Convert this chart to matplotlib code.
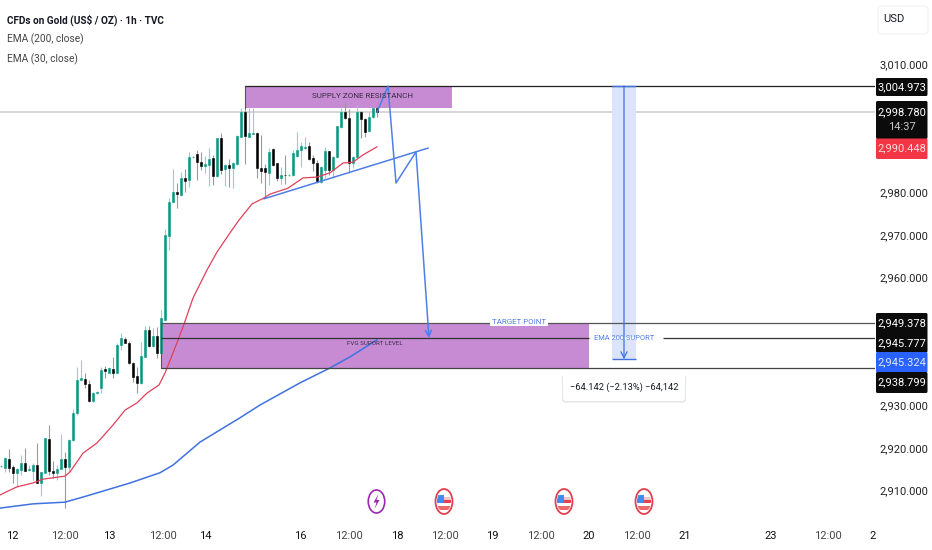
import matplotlib
matplotlib.use("Agg")
import matplotlib.pyplot as plt
from matplotlib.patches import Rectangle, FancyBboxPatch, Ellipse, Polygon
from matplotlib.ticker import FixedLocator, FuncFormatter

plt.rcParams['font.family'] = ['Roboto', 'DejaVu Sans']

# hourly candles
opens = [2915.7, 2915.3, 2917.4, 2915.5, 2914.2, 2914.9, 2916.5, 2914.9, 2914.6, 2916.0,
         2911.8, 2914.2, 2922.1, 2914.6, 2914.2, 2915.1, 2917.4, 2915.6, 2921.9, 2928.2,
         2936.0, 2936.2, 2935.0, 2931.1, 2933.0, 2934.1, 2938.6, 2937.6, 2938.6, 2937.6,
         2944.2, 2945.6, 2944.7, 2940.0, 2936.9, 2935.3, 2941.4, 2947.7, 2944.0, 2946.3,
         2942.3, 2950.1, 2969.8, 2977.8, 2980.1, 2979.4, 2983.4, 2982.9, 2988.2, 2989.0,
         2987.1, 2986.2, 2986.4, 2988.1, 2983.9, 2992.8, 2985.5, 2986.4, 2985.7, 2986.7,
         2993.0, 2998.9, 2993.0, 2993.7, 2994.0, 2985.7, 2985.7, 2984.6, 2990.2, 2986.9,
         2983.4, 2984.2, 2984.0, 2984.1, 2988.6, 2990.0, 2990.5, 2990.9, 2988.1, 2986.9,
         2982.4, 2985.3, 2989.7, 2985.3, 2988.3, 2995.4, 2998.9, 2997.5, 2986.9, 2988.3,
         2998.9, 2997.2, 2994.4, 2997.7, 2999.8]
highs = [2916.0, 2917.9, 2919.8, 2916.0, 2915.3, 2918.4, 2920.0, 2916.0, 2916.5, 2921.2,
         2914.4, 2922.4, 2925.4, 2917.0, 2916.0, 2923.3, 2919.1, 2922.1, 2929.2, 2939.0,
         2940.7, 2937.6, 2936.0, 2933.2, 2933.4, 2939.0, 2939.3, 2939.0, 2941.4, 2944.7,
         2947.0, 2946.1, 2945.1, 2940.2, 2939.0, 2944.9, 2948.7, 2948.7, 2948.2, 2948.4,
         2952.4, 2971.4, 2978.7, 2985.5, 2982.2, 2984.8, 2985.5, 2989.5, 2988.6, 2990.0,
         2989.5, 2988.6, 2990.4, 2988.8, 2992.8, 2993.9, 2986.7, 2987.9, 2987.1, 2993.5,
         2999.8, 2999.8, 2999.8, 2999.8, 2994.2, 2993.5, 2986.7, 2990.4, 2990.4, 2986.9,
         2986.0, 2988.8, 2984.4, 2990.0, 2994.2, 2991.9, 2993.0, 2991.9, 2988.8, 2987.6,
         2986.2, 2990.7, 2989.7, 2988.6, 2995.6, 2999.8, 3001.2, 2999.6, 2988.6, 3000.5,
         2999.1, 2997.5, 2998.9, 3000.1, 3000.5]
lows = [2915.6, 2914.4, 2914.4, 2911.8, 2910.9, 2913.7, 2914.6, 2914.6, 2912.5, 2911.8,
        2908.8, 2914.1, 2913.7, 2913.0, 2912.5, 2915.1, 2905.9, 2914.4, 2921.7, 2927.8,
        2936.0, 2934.1, 2930.8, 2930.8, 2932.8, 2932.9, 2936.4, 2937.6, 2936.4, 2937.6,
        2943.0, 2944.7, 2939.7, 2935.5, 2932.9, 2935.0, 2941.4, 2943.7, 2943.7, 2941.1,
        2941.1, 2949.8, 2966.5, 2977.8, 2976.3, 2979.2, 2980.1, 2981.3, 2988.0, 2982.9,
        2985.3, 2984.6, 2981.5, 2981.7, 2983.6, 2984.3, 2981.5, 2981.3, 2981.0, 2986.4,
        2993.0, 2986.7, 2993.0, 2993.7, 2983.4, 2982.2, 2978.7, 2981.7, 2986.2, 2982.7,
        2982.0, 2982.0, 2983.9, 2983.9, 2988.3, 2986.0, 2990.2, 2987.6, 2985.0, 2982.2,
        2982.2, 2983.4, 2984.1, 2983.4, 2988.1, 2995.1, 2997.2, 2984.6, 2985.7, 2988.3,
        2992.8, 2993.0, 2994.2, 2997.5, 2997.7]
closes = [2915.9, 2917.7, 2915.3, 2914.2, 2915.1, 2916.5, 2914.6, 2915.1, 2916.0, 2911.8,
          2914.4, 2922.4, 2914.6, 2914.2, 2915.1, 2917.4, 2915.6, 2921.9, 2928.2, 2936.0,
          2936.4, 2935.0, 2931.1, 2932.9, 2933.2, 2938.3, 2938.1, 2938.8, 2937.6, 2944.2,
          2945.8, 2944.7, 2940.0, 2936.7, 2935.3, 2941.6, 2947.7, 2944.0, 2946.3, 2942.3,
          2950.5, 2970.0, 2977.8, 2980.1, 2979.6, 2983.4, 2982.7, 2988.3, 2988.4, 2987.1,
          2986.2, 2986.7, 2987.9, 2983.9, 2992.8, 2985.3, 2986.4, 2985.7, 2986.9, 2993.2,
          2998.9, 2993.2, 2994.0, 2994.0, 2985.7, 2985.0, 2984.8, 2989.5, 2986.4, 2983.4,
          2984.1, 2984.0, 2984.2, 2989.3, 2990.0, 2990.9, 2990.7, 2987.9, 2986.9, 2982.4,
          2986.0, 2989.7, 2985.3, 2988.3, 2995.6, 2998.9, 2997.5, 2986.9, 2988.3, 2998.9,
          2997.2, 2994.2, 2997.7, 2999.8, 2998.8]

ema30_bars = [-0.25, 4, 8, 10.5, 16, 17.25, 20.5, 24, 28, 31, 34, 36.5, 39.5, 41, 43, 45.5, 48, 51.5,
              54, 57.25, 59.5, 62.75, 65.75, 67.25, 71.75, 75.5, 79, 82.25, 85.5, 88, 90.5, 94]
ema30_vals = [2909.0, 2910.9, 2911.8, 2912.7, 2913.4, 2914.4, 2918.8, 2921.2, 2925.4, 2928.9, 2930.6,
              2932.9, 2934.8, 2937.6, 2942.3, 2948.4, 2955.2, 2961.8, 2966.0, 2970.5, 2973.5, 2977.3,
              2978.7, 2979.6, 2981.0, 2983.4, 2983.6, 2984.6, 2986.9, 2987.1, 2988.8, 2990.7]
ema200_bars = [-0.25, 8, 16, 20.5, 28, 32.25, 39.75, 43, 49.75, 59.75, 64.75, 74.75, 82.25, 87.25, 94]
ema200_vals = [2905.9, 2906.9, 2907.3, 2908.5, 2910.6, 2911.8, 2914.2, 2916.0, 2921.4, 2927.1,
               2930.1, 2935.3, 2938.8, 2941.4, 2945.4]

price_ticks = [3010, 2980, 2970, 2960, 2930, 2920, 2910]
time_bars = [2.75, 16, 27, 40.5, 51, 74.75, 87, 99, 111, 122.75, 135, 147, 159, 171, 192.5, 206.75, 218]
time_labels = ['12', '12:00', '13', '12:00', '14', '16', '12:00', '18', '12:00', '19', '12:00',
               '20', '12:00', '21', '23', '12:00', '2']

# drawn levels
supply_top, supply_bottom = 3004.973, 2999.81
fvg_top, fvg_mid, fvg_bottom = 2949.378, 2945.777, 2938.799
last_price = 2998.78
measure_drop = 64.142
path_bars = [94, 96.75, 98.75, 103.75, 107]
path_vals = [2998.8, 3004.97, 2982.2, 2989.5, 2945.8]
trend_bars = [65.75, 106.75]
trend_vals = [2978.5, 2990.4]

W, H = 932, 550
AX_R, AX_B = 875, 510
fig = plt.figure(figsize=(W / 100, H / 100), dpi=100, facecolor='white')
ax = fig.add_axes([0, 1 - AX_B / H, AX_R / W, AX_B / H])
ax.set_xlim(-0.25, 218.5)
ax.set_ylim(2905.46, 3025.16)
for s in ax.spines.values():
    s.set_visible(False)

green, black = '#089981', '#000000'
for i in range(len(opens)):
    up = closes[i] >= opens[i]
    ax.vlines(i, lows[i], highs[i], color='#8fd3c7' if up else '#9a9a9a', lw=0.8, zorder=3.6)
    c = green if up else black
    ax.bar(i, abs(closes[i] - opens[i]), bottom=min(opens[i], closes[i]), width=0.6,
           color=c, edgecolor=c, lw=0.4, zorder=3.7)

ax.plot(ema30_bars, ema30_vals, color='#e0405a', lw=0.9, zorder=3.8)
ax.plot(ema200_bars, ema200_vals, color='#3f72e0', lw=1.1, zorder=3.8)

# zones and level lines
purple = '#c78bd4'
ax.add_patch(Rectangle((61, supply_bottom), 51.75, supply_top - supply_bottom, fc=purple, ec='none', zorder=3.5))
ax.plot([61, 61], [supply_bottom, supply_top], color='#555555', lw=0.8, zorder=4)
ax.add_patch(Rectangle((40, fvg_bottom), 107, fvg_top - fvg_bottom, fc=purple, ec='none', zorder=3.5))
ax.plot([40, 40], [fvg_bottom, fvg_top], color='#555555', lw=0.8, zorder=4)
ax.hlines(last_price, -0.25, 218.5, color='#cfcfcf', lw=1.2, zorder=1)
ax.hlines(supply_top, 61, 218.5, color='#222222', lw=0.9, zorder=4)
ax.hlines([fvg_top, fvg_mid, fvg_bottom], 40, 218.5, color=['#555555', '#333333', '#444444'], lw=0.9, zorder=4)

# measure tool
m_bottom = supply_top - measure_drop
ax.add_patch(Rectangle((152.75, m_bottom), 6, measure_drop, fc='#dbe4fa', ec='none', zorder=1.5))
ax.hlines(supply_top, 152.75, 158.75, color='#3f72e0', lw=1.0, zorder=4.5)
ax.hlines(m_bottom, 152.75, 158.75, color='#3f72e0', lw=1.0, zorder=4.5)
ax.annotate('', xy=(155.75, m_bottom), xytext=(155.75, supply_top),
            arrowprops=dict(arrowstyle='->', color='#3f72e0', lw=0.9, mutation_scale=11, shrinkA=0, shrinkB=0), zorder=4.5)

# drawn path and trend line
ax.plot(trend_bars, trend_vals, color='#4f7fe6', lw=1.1, zorder=4.5)
ax.plot(path_bars[:-1], path_vals[:-1], color='#4f7fe6', lw=1.1, zorder=4.5)
ax.annotate('', xy=(path_bars[-1], path_vals[-1]), xytext=(path_bars[-2], path_vals[-2]),
            arrowprops=dict(arrowstyle='->', color='#4f7fe6', lw=1.1, mutation_scale=11, shrinkA=0, shrinkB=0), zorder=4.5)

ax.text(90.5, 3002.6, 'SUPPLY ZONE RESISTANCH', fontsize=5.8, color='#3a2a44', ha='center', va='center', zorder=5)
ax.text(93.5, 2944.6, 'FVG SUPORT LEVEL', fontsize=4.5, color='#3a2a44', ha='center', va='center', zorder=5)
blue_txt = dict(color='#4f7fe6', ha='center', va='center', zorder=6)
ax.text(129.5, 2949.7, 'TARGET POINT', fontsize=5.7, bbox=dict(fc='white', ec='none', pad=1.2), **blue_txt)
ax.hlines(fvg_mid, 147, 165.5, color='white', lw=2, zorder=4.2)
ax.text(155.9, fvg_mid, 'EMA 200 SUPORT', fontsize=5.4, **blue_txt)

# axes ticks
ax.yaxis.tick_right()
ax.yaxis.set_major_locator(FixedLocator(price_ticks))
ax.yaxis.set_major_formatter(FuncFormatter(lambda v, p: f'{v:,.3f}'))
ax.set_xticks(time_bars)
ax.set_xticklabels(time_labels)
ax.tick_params(axis='y', length=0, pad=3, labelsize=8, labelcolor='#222222')
ax.tick_params(axis='x', length=0, pad=15, labelsize=8)
for lab, t in zip(ax.get_xticklabels(), time_labels):
    lab.set_color('#444444' if ':' in t else '#111111')

# overlay in picture pixels for the chrome around the chart
ov = fig.add_axes([0, 0, 1, 1], zorder=10)
ov.set_xlim(0, W)
ov.set_ylim(H, 0)
ov.axis('off')

ov.text(7, 20, 'CFDs on Gold (US$ / OZ) · 1h · TVC', fontsize=7.2, fontweight='bold', color='#131722', va='center')
ov.text(7, 39, 'EMA (200, close)', fontsize=7.3, color='#444444', va='center')
ov.text(7, 59, 'EMA (30, close)', fontsize=7.3, color='#444444', va='center')

ov.add_patch(FancyBboxPatch((878, 6), 50, 28, boxstyle='round,pad=0,rounding_size=3', fc='white', ec='#f2f2f2', lw=0.8))
ov.text(894, 19.5, 'USD', fontsize=8, color='#131722', va='center', ha='center')

label_x = 901.5
def price_box(y0, y1, fc):
    ov.add_patch(FancyBboxPatch((876, y0), 51.5, y1 - y0, boxstyle='round,pad=0,rounding_size=1.5', fc=fc, ec='none'))

price_box(78, 96, '#0b0b0b')
price_box(101, 139, '#0b0b0b')
price_box(138.5, 159, '#f23645')
price_box(313, 352.5, '#0b0b0b')
price_box(352, 372.5, '#2962ff')
price_box(372, 393, '#0b0b0b')
box_labels = [('3,004.973', 87.5, 'white'), ('2,998.780', 112, 'white'), ('14:37', 127, '#c8c8c8'),
              ('2,990.448', 148.5, '#ffd9dc'), ('2,949.378', 323, 'white'), ('2,945.777', 343, 'white'),
              ('2,945.324', 362, '#dfe8ff'), ('2,938.799', 382.5, 'white')]
for txt, y, col in box_labels:
    ov.text(label_x, y, txt, fontsize=8, color=col, ha='center', va='center')

# measure label with soft shadow
ov.add_patch(FancyBboxPatch((562, 374.5), 124, 28, boxstyle='round,pad=0,rounding_size=3', fc='#e6e6e6', ec='none'))
ov.add_patch(FancyBboxPatch((563, 373), 122, 28, boxstyle='round,pad=0,rounding_size=3', fc='white', ec='none'))
ov.text(624, 387, '−64.142 (−2.13%) −64,142', fontsize=6.7, color='#131722', ha='center', va='center')

# event markers
ov.add_patch(Ellipse((376.5, 501.5), 16.5, 23, fc='white', ec='#9c27b0', lw=1.2))
ov.add_patch(Polygon([(378.5, 494), (373.5, 502.5), (376.5, 502.5), (374.5, 509), (379.5, 500), (376.5, 500)],
                     fc='#9c27b0', ec='none'))
for fx in [444, 564, 644]:
    rim = Ellipse((fx, 501.5), 17, 25, fc='white', ec='#e2404f', lw=1.3)
    ov.add_patch(rim)
    for x0, y0, w, h, col in [(fx - 7, 495, 7, 8, '#3f8df0'), (fx, 497, 7, 2.5, '#f7c4c4'),
                              (fx, 499.5, 7, 3.5, '#e2404f'), (fx - 7, 506, 14, 4, '#ee6a6a')]:
        r = Rectangle((x0, y0), w, h, fc=col, ec='none')
        ov.add_patch(r)
        r.set_clip_path(Ellipse((fx, 501.5), 14, 21, transform=ov.transData))

fig.savefig('out.png', dpi=100)
